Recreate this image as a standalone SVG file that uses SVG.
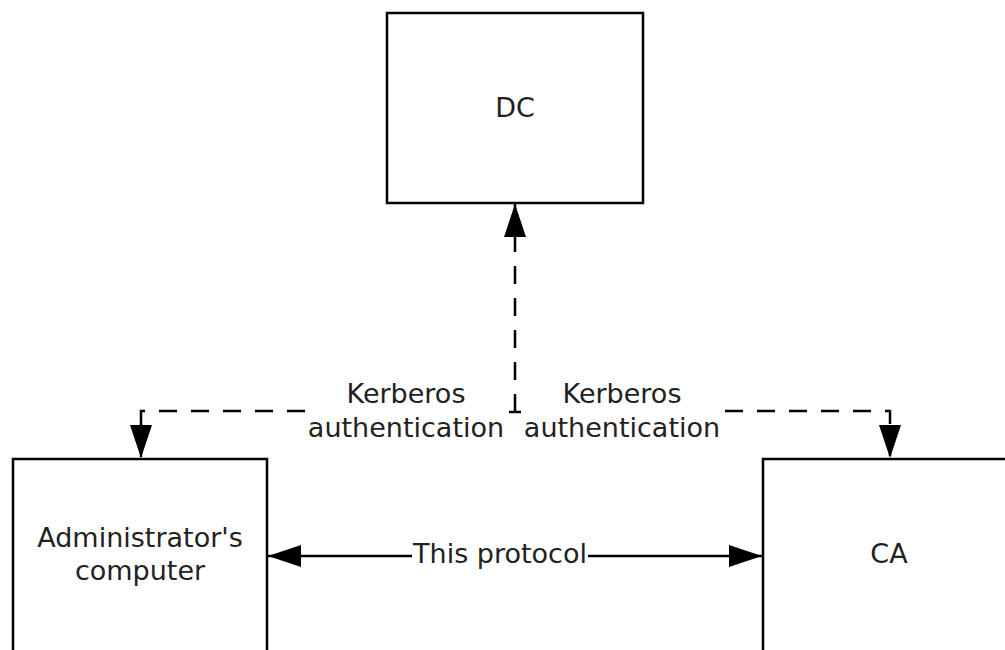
<svg xmlns="http://www.w3.org/2000/svg" width="1005" height="650" viewBox="0 0 1005 650">
<style>
.box{fill:#fff;stroke:#000;stroke-width:2.5}
.lbl{font-family:"DejaVu Sans",Verdana,sans-serif;font-size:27px;fill:#222;text-anchor:middle}
.dash{fill:none;stroke:#000;stroke-width:2.5;stroke-dasharray:18 14}
.solid{fill:none;stroke:#000;stroke-width:2.5}
</style>
<defs>
<marker id="ah" viewBox="0 0 33 22" refX="33" refY="11" markerWidth="33" markerHeight="22" markerUnits="userSpaceOnUse" orient="auto-start-reverse">
<path d="M0,0 L33,11 L0,22 z" fill="#000"/>
</marker>
</defs>
<rect width="1005" height="650" fill="#fff"/>
<g id="dc">
<rect class="box" x="387" y="13" width="256" height="190"/>
<text class="lbl" x="515" y="117">DC</text>
</g>
<g id="admin">
<rect class="box" x="13" y="459" width="254" height="260"/>
<text class="lbl" x="140" y="547">Administrator's</text>
<text class="lbl" x="140" y="580">computer</text>
</g>
<g id="ca">
<rect class="box" x="763" y="459" width="260" height="260"/>
<text class="lbl" x="889" y="563">CA</text>
</g>
<g id="connectors">
<path class="dash" d="M515,412 V204" marker-end="url(#ah)"/>
<path class="solid" d="M509,412 H521"/>
<path class="dash" d="M305,411 H141 V458" marker-end="url(#ah)"/>
<path class="dash" d="M725,411 H890 V458" marker-end="url(#ah)"/>
<path class="solid" d="M268,556 H412" marker-start="url(#ah)"/>
<path class="solid" d="M588,556 H762" marker-end="url(#ah)"/>
<text class="lbl" x="406" y="403">Kerberos</text>
<text class="lbl" x="406" y="437">authentication</text>
<text class="lbl" x="622" y="403">Kerberos</text>
<text class="lbl" x="622" y="437">authentication</text>
<text class="lbl" x="500" y="563">This protocol</text>
</g>
</svg>
